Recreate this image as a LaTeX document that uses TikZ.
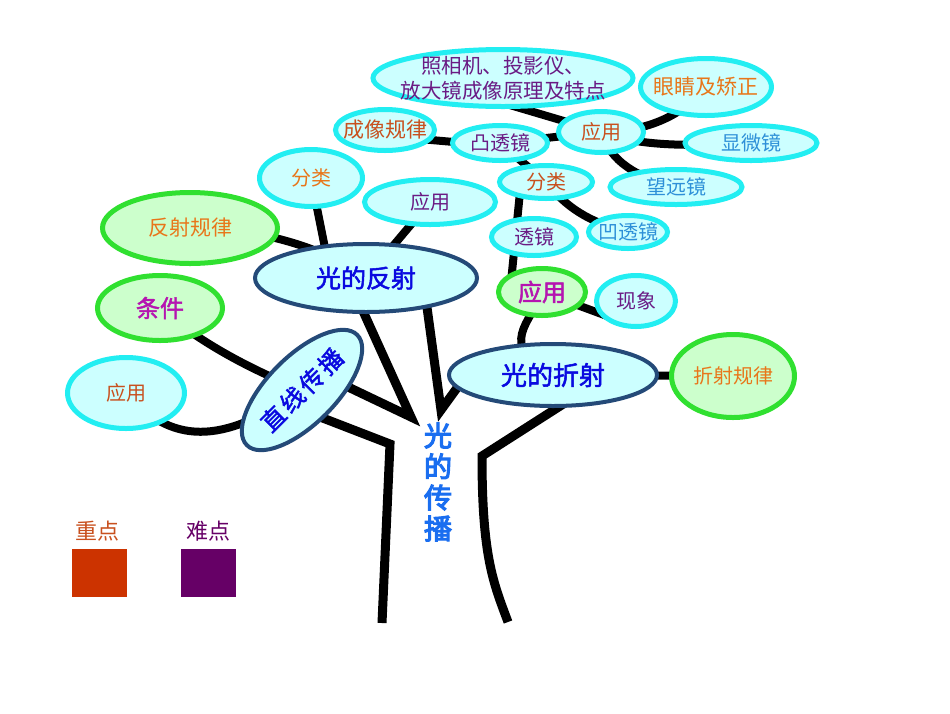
\documentclass[tikz,border=0pt]{standalone}
\usepackage{fontspec}
\newfontfamily\cjkf{Noto Sans CJK SC}
\newfontfamily\cjkmf[FakeBold=2]{Noto Sans CJK SC}
\newfontfamily\cjkbf[FakeBold=4]{Noto Sans CJK SC}
\usetikzlibrary{shapes.geometric,calc}
\pgfdeclarelayer{bg}
\pgfsetlayers{bg,main}
\definecolor{cyb}{HTML}{22EEF2}
\definecolor{cyf}{HTML}{CCFFFF}
\definecolor{grb}{HTML}{30E030}
\definecolor{grf}{HTML}{CCFFCC}
\definecolor{nvb}{HTML}{244A78}
\definecolor{torange}{HTML}{E8761A}
\definecolor{tbrown}{HTML}{C8501E}
\definecolor{tpurple}{HTML}{6A1B84}
\definecolor{tlblue}{HTML}{2E90D8}
\definecolor{tmag}{HTML}{B515B0}
\definecolor{tblue}{HTML}{0A0AE0}
\definecolor{ttrunk}{HTML}{1A6EF0}
\definecolor{sqred}{HTML}{CC3300}
\definecolor{sqpur}{HTML}{660066}
\begin{document}
\begin{tikzpicture}[x=1pt,y=-1pt,
  el/.style={ellipse, inner sep=-30pt, align=center},
  sz/.style 2 args={minimum width=#1pt, minimum height=#2pt},
  cy/.style={el, draw=cyb, line width=5pt, fill=cyf},
  gr/.style={el, draw=grb, line width=5pt, fill=grf},
  nv/.style={el, draw=nvb, line width=4pt, fill=cyf},
  fs/.style={font=\cjkf\fontsize{#1}{#1}\selectfont},
  fm/.style={font=\cjkmf\fontsize{#1}{#1}\selectfont},
  conn/.style={line width=8pt, black},
  trunkline/.style={line width=9pt, black, line join=miter},
]
\useasboundingbox (0,0) rectangle (950,713);

% nodes
\node[cy, sz={260}{57}, font=\cjkf\fontsize{20.5}{25}\selectfont, text=tpurple] (zx) at (503,78) {照相机、投影仪、\\放大镜成像原理及特点};
\node[cy, sz={131}{57}, fs=21, text=torange] (yj) at (706,87) {眼睛及矫正};
\node[cy, sz={99}{41}, fs=21, text=tbrown] (cx) at (385,130) {成像规律};
\node[cy, sz={95}{35}, fs=20, text=tpurple] (tu) at (500,143) {凸透镜};
\node[cy, sz={85}{41}, fs=20, text=tbrown] (yy1) at (601,132) {应用};
\node[cy, sz={132}{35}, fs=20, text=tlblue] (xw) at (751,143) {显微镜};
\node[cy, sz={103}{57}, fs=20, text=torange] (fl1) at (311,178) {分类};
\node[cy, sz={131}{45}, fs=20, text=tpurple] (yy2) at (430,202) {应用};
\node[cy, sz={93}{33}, fs=20, text=tbrown] (fl2) at (546,182) {分类};
\node[cy, sz={132}{35}, fs=20, text=tlblue] (wy) at (676,187) {望远镜};
\node[cy, sz={85}{37}, fs=20, text=tpurple] (tj) at (534,237) {透镜};
\node[cy, sz={79}{33}, fs=20, text=tlblue] (ao) at (628,232) {凹透镜};
\node[gr, sz={175}{71}, fs=21, text=torange] (fr) at (190,228) {反射规律};
\node[nv, sz={222}{68}, fm=25, text=tblue] (fsn) at (366,278) {光的反射};
\node[gr, sz={87}{47}, fm=24, text=tmag] (yyg) at (542,292) {应用};
\node[cy, sz={79}{51}, fs=20, text=tpurple] (xx) at (636,301) {现象};
\node[gr, sz={125}{65}, fm=24, text=tmag] (tjian) at (160,308) {条件};
\node[nv, sz={208}{62}, fm=26, text=tblue] (zs) at (553,375) {光的折射};
\node[gr, sz={123}{83}, fs=20, text=torange] (zsg) at (733,376) {折射规律};
\node[cy, sz={117}{71}, fs=20, text=tbrown] (yyl) at (126,393) {应用};
\node[nv, sz={156}{68}, fm=24, text=tblue, rotate=45] (zxcb) at (302,390) {直\kern3pt 线\kern3pt 传\kern3pt 播};
\node[font=\cjkbf\fontsize{28}{31}\selectfont, text=ttrunk, align=center, inner sep=0pt] (trunk) at (438,482) {光\\的\\传\\播};

% legend
\node[fs=22, text=tbrown, inner sep=0pt] (lg1) at (97,531) {重点};
\node[fs=22, text=sqpur, inner sep=0pt] (lg2) at (208,531) {难点};
\node[fill=sqred, minimum width=55pt, minimum height=48pt, inner sep=0pt] (sq1) at (99.5,573) {};
\node[fill=sqpur, minimum width=55pt, minimum height=48pt, inner sep=0pt] (sq2) at (208.5,573) {};

% coordinates of the trunk
\coordinate (apex) at (411,417);
\coordinate (ltop) at (390,444);
\coordinate (lbot) at (382,623);
\coordinate (rapex) at (441,410);
\coordinate (rtop) at (482,456);
\coordinate (rbot) at (508,622);

\begin{pgfonlayer}{bg}
\draw[conn] ([yshift=-6pt]cx.center) -- ([yshift=-3pt]tu.center);
\draw[conn] (tu.center) -- (yy1.center);
\draw[conn] ([yshift=-25pt]zx.center) -- (yy1.center);
\draw[conn] (yy1.center) .. controls +(50,0) and +(-20,25) .. (yj.center);
\draw[conn] (yy1.center) .. controls +(40,15) and +(-60,3) .. (xw.center);
\draw[conn] (yy1.center) .. controls +(10,30) and +(-40,-10) .. (wy.center);
\draw[conn] (tu.center) -- (fl2.center);
\draw[conn] (fl2.center) .. controls +(20,25) and +(-40,-10) .. (ao.center);
\draw[conn] ([xshift=-25pt]fl2.center) -- ([xshift=-32pt]yyg.center);
\draw[conn] (zs.center) .. controls +(-58,-30) and +(-10,30) .. (yyg.center);
\draw[conn] (yyg.center) -- ([xshift=-10pt,yshift=-22pt]xx.center);
\draw[conn] (zs.center) -- (zsg.center);
\draw[conn] (fr.center) .. controls +(70,0) and +(-40,-30) .. (fsn.center);
\draw[conn] (fl1.center) -- ([xshift=-35pt]fsn.center);
\draw[conn] (fsn.center) -- (yy2.center);
\draw[conn] (tjian.center) .. controls +(40,35) and +(-50,-20) .. (zxcb.center);
\draw[conn] (yyl.center) .. controls +(50,57) and +(-72,50) .. (zxcb.center);
\draw[trunkline] ([xshift=-18pt]fsn.center) -- (apex) -- ([yshift=25pt]zxcb.center);
\draw[trunkline] ([yshift=-20pt]zxcb.center) -- (ltop) -- (lbot);
\draw[trunkline] ([xshift=57pt]fsn.center) -- (rapex) -- ([xshift=-83pt,yshift=5pt]zs.center);
\draw[trunkline] ([xshift=40pt,yshift=-10pt]zs.center) -- (rtop) .. controls +(0,100) and +(-15,-40) .. (rbot);
\end{pgfonlayer}
\end{tikzpicture}
\end{document}
